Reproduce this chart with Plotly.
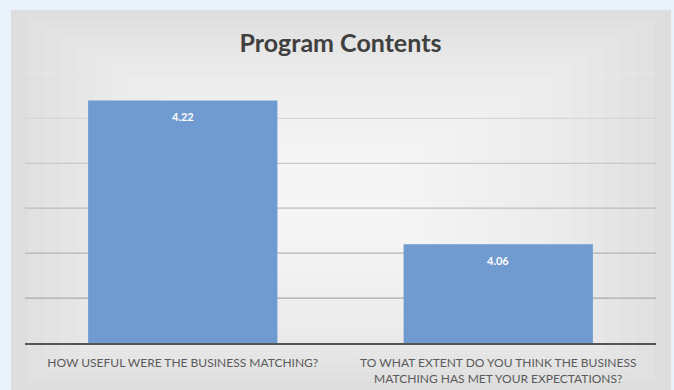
import plotly.graph_objects as go

# Survey results: average score per question
categories = [
    "HOW USEFUL WERE THE BUSINESS MATCHING?",
    "TO WHAT EXTENT DO YOU THINK THE BUSINESS<br>MATCHING HAS MET YOUR EXPECTATIONS?",
]
scores = [4.22, 4.06]
value_labels = ["4.22", "4.06"]

# Value axis
y_min, y_max, y_step = 3.95, 4.25, 0.05
grid_values = [4.00, 4.05, 4.10, 4.15, 4.20, 4.25]
grid_colors = ["#a9a9a9", "#b3b3b3", "#bdbdbd", "#c8c8c8", "#d6d6d6", "#e8e8e8"]

W, H = 674, 390
panel_x0, panel_x1, panel_y0 = 11, 671, 10

fig = go.Figure(
    go.Bar(
        x=categories,
        y=scores,
        marker=dict(color="#6f9bd0", line=dict(width=0)),
        hoverinfo="skip",
    )
)

# value labels just inside the top of each bar
annotations = []
for cat, val, lab in zip(categories, scores, value_labels):
    annotations.append(dict(
        x=cat, y=val, xref="x", yref="y",
        text=f"<b>{lab}</b>", showarrow=False,
        yanchor="middle", yshift=-16,
        font=dict(family="Lato, Open Sans, sans-serif", size=11, color="white"),
    ))

shapes = []
# grey card behind the chart, with a soft light centre
shapes.append(dict(
    type="rect", xref="paper", yref="paper", layer="below",
    x0=(panel_x0 - 25) / 631, x1=(panel_x1 - 25) / 631,
    y0=-47 / 270, y1=(343 - panel_y0) / 270,
    fillcolor="#dedede", line=dict(width=0),
))
steps = 18
for i in range(steps):
    f = (i + 1) / (steps + 1)
    x0 = panel_x0 + (panel_x1 - panel_x0) * 0.5 * f * 0.96
    x1 = panel_x1 - (panel_x1 - panel_x0) * 0.5 * f * 0.96
    y0 = panel_y0 + (H - panel_y0) * 0.5 * f * 0.9
    y1 = H - (H - panel_y0) * 0.5 * f * 0.9
    shapes.append(dict(
        type="rect", xref="paper", yref="paper", layer="below",
        x0=(x0 - 25) / 631, x1=(x1 - 25) / 631,
        y0=(343 - y1) / 270, y1=(343 - y0) / 270,
        fillcolor="rgba(255,255,255,0.09)", line=dict(width=0),
    ))
# horizontal gridlines
for gv, gc in zip(grid_values, grid_colors):
    shapes.append(dict(
        type="line", xref="paper", yref="y", layer="between",
        x0=0, x1=1, y0=gv, y1=gv,
        line=dict(color=gc, width=1.3),
    ))

fig.update_layout(
    width=W, height=H,
    margin=dict(l=25, r=18, t=73, b=47),
    paper_bgcolor="#e9f2fa",
    plot_bgcolor="rgba(0,0,0,0)",
    bargap=0.4,
    showlegend=False,
    shapes=shapes,
    annotations=annotations,
    title=dict(
        text="<b>Program Contents</b>",
        x=0.5, xref="paper", xanchor="center",
        y=1 - 43 / H, yanchor="middle",
        font=dict(family="Lato, Open Sans, sans-serif", size=25, color="#404040"),
    ),
    xaxis=dict(
        showgrid=False,
        showline=True, linecolor="#555555", linewidth=2,
        ticks="", tickfont=dict(family="Lato, Open Sans, sans-serif", size=12, color="#5a5a5a"),
        ticklabelstandoff=8,
        automargin=False,
    ),
    yaxis=dict(
        range=[y_min, y_max + 0.0005],
        dtick=y_step,
        showgrid=False,
        showticklabels=False,
        zeroline=False,
        automargin=False,
    ),
)

fig.write_html("out.html")
